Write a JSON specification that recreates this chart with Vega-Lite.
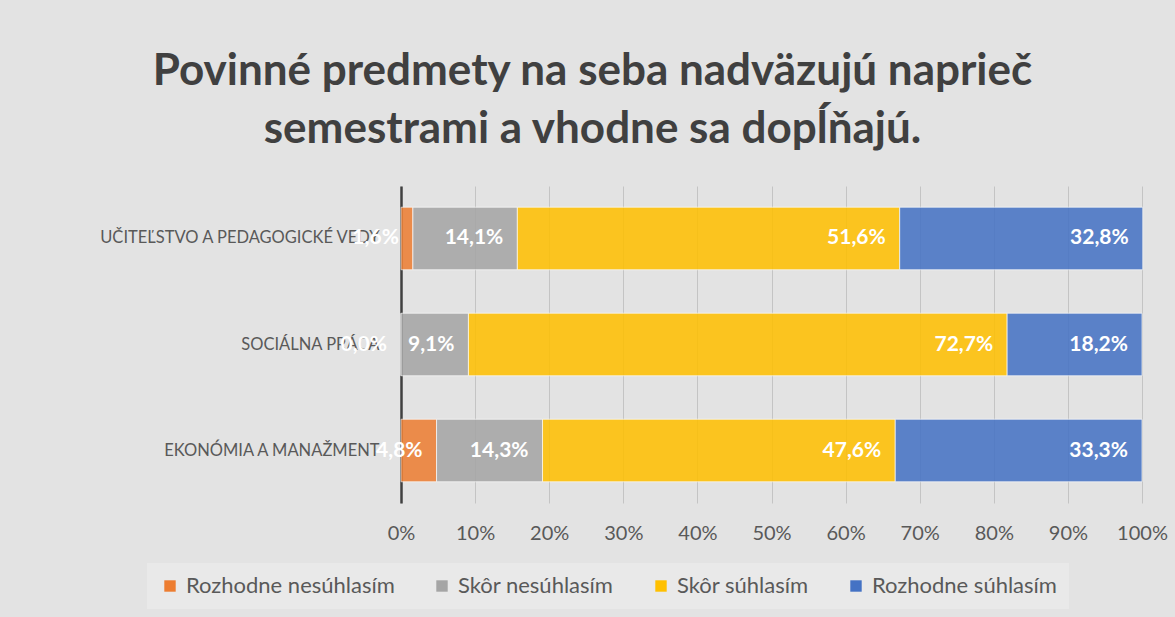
{
  "$schema": "https://vega.github.io/schema/vega-lite/v6.json",
  "autosize": {"type": "none"},
  "width": 741,
  "height": 317,
  "padding": {"left": 401, "top": 186, "right": 33, "bottom": 114},
  "background": "#e3e3e3",
  "title": {
    "text": ["Povinné predmety na seba nadväzujú naprieč", "semestrami a vhodne sa dopĺňajú."],
    "font": "Lato",
    "fontSize": 44,
    "fontWeight": "bold",
    "color": "#404040",
    "anchor": "middle",
    "frame": "group",
    "dx": -179,
    "offset": 34,
    "lineHeight": 58
  },
  "data": {
    "values": [
      {"k": "UČITEĽSTVO A PEDAGOGICKÉ VEDY", "c": "Rozhodne nesúhlasím", "o": 1, "v": 0.016},
      {"k": "UČITEĽSTVO A PEDAGOGICKÉ VEDY", "c": "Skôr nesúhlasím", "o": 2, "v": 0.141},
      {"k": "UČITEĽSTVO A PEDAGOGICKÉ VEDY", "c": "Skôr súhlasím", "o": 3, "v": 0.516},
      {"k": "UČITEĽSTVO A PEDAGOGICKÉ VEDY", "c": "Rozhodne súhlasím", "o": 4, "v": 0.328},
      {"k": "SOCIÁLNA PRÁCA", "c": "Rozhodne nesúhlasím", "o": 1, "v": 0.0},
      {"k": "SOCIÁLNA PRÁCA", "c": "Skôr nesúhlasím", "o": 2, "v": 0.091},
      {"k": "SOCIÁLNA PRÁCA", "c": "Skôr súhlasím", "o": 3, "v": 0.727},
      {"k": "SOCIÁLNA PRÁCA", "c": "Rozhodne súhlasím", "o": 4, "v": 0.182},
      {"k": "EKONÓMIA A MANAŽMENT", "c": "Rozhodne nesúhlasím", "o": 1, "v": 0.048},
      {"k": "EKONÓMIA A MANAŽMENT", "c": "Skôr nesúhlasím", "o": 2, "v": 0.143},
      {"k": "EKONÓMIA A MANAŽMENT", "c": "Skôr súhlasím", "o": 3, "v": 0.476},
      {"k": "EKONÓMIA A MANAŽMENT", "c": "Rozhodne súhlasím", "o": 4, "v": 0.333}
    ]
  },
  "encoding": {
    "y": {
      "field": "k",
      "type": "nominal",
      "sort": null,
      "scale": {"paddingInner": 0.41, "paddingOuter": 0.2},
      "axis": {
        "title": null,
        "ticks": false,
        "domainColor": "#404040",
        "domainWidth": 2.5,
        "labelFont": "Lato",
        "labelFontSize": 16.5,
        "labelColor": "#595959",
        "labelPadding": 22,
        "labelLimit": 400
      }
    },
    "x": {
      "field": "v",
      "type": "quantitative",
      "stack": "zero",
      "scale": {"domain": [0, 1], "nice": false},
      "axis": {
        "title": null,
        "values": [0, 0.1, 0.2, 0.3, 0.4, 0.5, 0.6, 0.7, 0.8, 0.9, 1],
        "format": ".0%",
        "domain": false,
        "ticks": false,
        "grid": true,
        "gridColor": "#c4c4c4",
        "gridWidth": 1,
        "labelFont": "Lato",
        "labelFontSize": 20,
        "labelColor": "#595959",
        "labelPadding": 20,
        "labelFlush": false,
        "labelOverlap": false
      }
    },
    "order": {"field": "o", "type": "quantitative"}
  },
  "layer": [
    {
      "mark": {"type": "bar", "opacity": 0.86, "stroke": "#ffffff", "strokeWidth": 1, "strokeOpacity": 0.7},
      "encoding": {
        "color": {
          "field": "c",
          "type": "nominal",
          "scale": {
            "domain": ["Rozhodne nesúhlasím", "Skôr nesúhlasím", "Skôr súhlasím", "Rozhodne súhlasím"],
            "range": ["#ED7D31", "#A5A5A5", "#FFC000", "#4472C4"]
          },
          "legend": {
            "title": null,
            "orient": "none",
            "legendX": -254,
            "legendY": 377,
            "direction": "horizontal",
            "fillColor": "#e9e9e9",
            "padding": 12,
            "symbolType": "square",
            "symbolSize": 130,
            "symbolStrokeWidth": 0,
            "symbolOpacity": 1,
            "labelFont": "Lato",
            "labelFontSize": 22,
            "labelColor": "#595959",
            "labelOffset": 5,
            "labelLimit": 400,
            "columnPadding": 36
          }
        }
      }
    },
    {
      "mark": {"type": "text", "align": "right", "baseline": "middle", "dx": -14, "font": "Lato", "fontSize": 21, "fontWeight": "bold", "color": "#ffffff"},
      "encoding": {
        "text": {"field": "v", "type": "quantitative", "format": ".1%"}
      }
    }
  ],
  "config": {
    "view": {"stroke": null},
    "locale": {"number": {"decimal": ",", "thousands": " ", "grouping": [3], "currency": ["", " €"]}}
  }
}
